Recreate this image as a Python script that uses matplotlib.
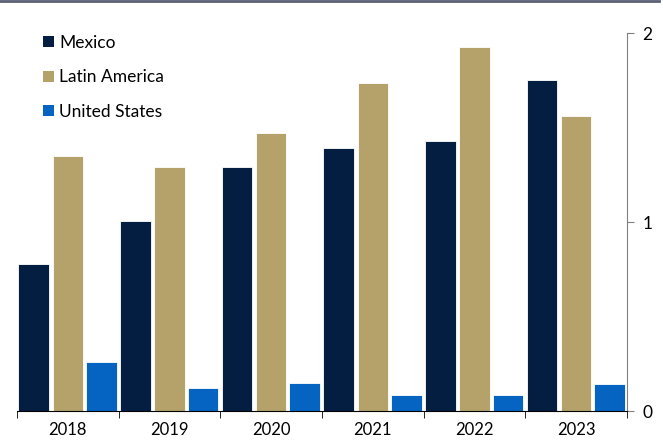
import numpy as np
import matplotlib.pyplot as plt
from matplotlib.lines import Line2D
from matplotlib.patches import Patch

years = ['2018', '2019', '2020', '2021', '2022', '2023']
mexico = [0.78, 1.005, 1.29, 1.39, 1.43, 1.75]
latin_america = [1.35, 1.29, 1.47, 1.735, 1.925, 1.56]
united_states = [0.26, 0.12, 0.15, 0.085, 0.085, 0.143]

series = ['Mexico', 'Latin America', 'United States']
colors = ['#041E42', '#B5A26B', '#0563C1']

plt.rcParams['font.family'] = ['Lato', 'DejaVu Sans']

fig = plt.figure(figsize=(6.63, 4.42), dpi=100)
ax = fig.add_axes([0.0256, 0.0701, 0.92, 0.8552])

x = np.arange(len(years))
w = 0.30
for vals, off, c, name in zip([mexico, latin_america, united_states],
                              [-0.335, 0, 0.33], colors, series):
    ax.bar(x + off, vals, width=w, color=c, edgecolor='white', linewidth=0.6,
           label=name, zorder=2)

ax.set_xlim(-0.5, len(years) - 0.5)
ax.set_ylim(0, 2)

# year labels centred, tick marks at group boundaries
ax.set_xticks(x)
ax.set_xticklabels(years, fontsize=12)
ax.set_xticks(np.arange(-0.5, len(years)), minor=True)
ax.tick_params(axis='x', which='major', length=0, pad=8)
ax.tick_params(axis='x', which='minor', length=5, direction='out', color='black')

ax.yaxis.tick_right()
ax.set_yticks([0, 1, 2])
ax.tick_params(axis='y', length=5, direction='out', color='#808080', labelsize=12.5, pad=6)

for s in ['top', 'left']:
    ax.spines[s].set_visible(False)
ax.spines['right'].set_color('#808080')
ax.spines['bottom'].set_color('black')

handles = [Patch(facecolor=c, edgecolor='none') for c in colors]
ax.legend(handles, series, loc='upper left', bbox_to_anchor=(0.032, 1.013),
          frameon=False, fontsize=12.5, handlelength=0.6, handleheight=0.6,
          handletextpad=0.3, labelspacing=1.05, borderaxespad=0.0)

fig.add_artist(Line2D([0, 0.994], [0.9975, 0.9975], transform=fig.transFigure,
                      color='#5A5F73', linewidth=2))

fig.savefig('out.png', dpi=100)
